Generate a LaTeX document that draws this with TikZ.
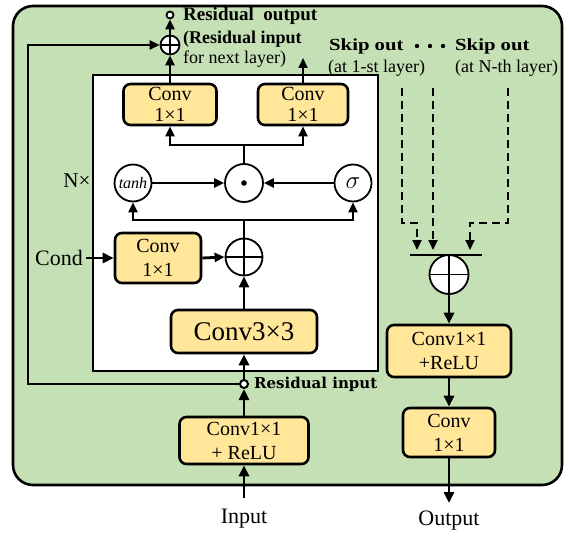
\documentclass[tikz,border=0pt]{standalone}
\usepackage{fontspec}
\setmainfont{Liberation Serif}
\newfontfamily\widebold[FakeStretch=1.22]{Liberation Serif}
\newfontfamily\labelbold{DejaVu Serif}
\usetikzlibrary{arrows.meta}

\definecolor{panelgreen}{RGB}{197,224,180}
\definecolor{boxyellow}{RGB}{255,230,153}

\begin{document}
\begin{tikzpicture}[x=1pt,y=-1pt,
  blk/.style={draw, line width=2.6pt, rounded corners=7pt, fill=boxyellow,
    align=center, inner sep=0pt, font=\fontsize{20}{24}\selectfont},
  opnode/.style={draw, circle, line width=1.8pt, fill=white, inner sep=0pt},
  arr/.style={-{Triangle[length=11pt,width=10pt]}, line width=2.8pt},
  tarr/.style={-{Triangle[length=10pt,width=9pt]}, line width=2.2pt},
  skipline/.style={line width=2pt, dash pattern=on 8pt off 5pt,
    -{Triangle[length=10pt,width=9pt]}},
  lbl/.style={inner sep=0pt, font=\fontsize{18}{20}\selectfont},
  io/.style={inner sep=0pt, font=\fontsize{22}{24}\selectfont},
]
\useasboundingbox (0,0) rectangle (564,532);

% panels
\draw[line width=2.6pt, fill=panelgreen, rounded corners=20pt] (13,6) rectangle (562,485);
\draw[line width=2pt, fill=white] (93,75) rectangle (378,371);

% main column
\node[blk, minimum width=129pt, minimum height=47pt] (pre) at (244,440.5) {Conv1\texttimes1\\+ ReLU};
\node[opnode, minimum size=8pt, line width=2pt] (rin) at (244,384) {};
\node[blk, minimum width=146pt, minimum height=43pt, font=\fontsize{27}{30}\selectfont] (c33) at (244,331.5) {Conv3\texttimes3};
\node[opnode, minimum size=37pt] (cadd) at (244,257) {};
\node[blk, minimum width=86pt, minimum height=50pt] (ccond) at (158,258) {Conv\\1\texttimes1};
\node[opnode, minimum size=37pt] (tanh) at (133,183) {\itshape\fontsize{16}{16}\selectfont tanh};
\node[opnode, minimum size=38pt] (mul) at (244,183) {};
\node[opnode, minimum size=37pt] (sig) at (353,183) {\fontsize{26}{26}\selectfont$\sigma$};
\node[blk, minimum width=93pt, minimum height=41pt, font=\fontsize{20}{21}\selectfont] (convL) at (170,104.5) {Conv\\1\texttimes1};
\node[blk, minimum width=90pt, minimum height=41pt, font=\fontsize{20}{21}\selectfont] (convR) at (303,104.5) {Conv\\1\texttimes1};
\node[opnode, minimum size=19pt] (radd) at (170,45) {};
\node[opnode, minimum size=7pt, line width=1.8pt] (rout) at (170,15) {};

\fill (mul.center) circle (2.8pt);

% output column
\node[opnode, minimum size=39pt] (sadd) at (449,274.5) {};
\node[blk, minimum width=124pt, minimum height=52pt] (post) at (449,351) {Conv1\texttimes1\\+ReLU};
\node[blk, minimum width=92pt, minimum height=49pt] (cout) at (449,432.5) {Conv\\1\texttimes1};

\foreach \n in {radd,cadd,sadd}
  \draw[line width=1.8pt] (\n.north) -- (\n.south) (\n.west) -- (\n.east);

% coordinates of free ends and bends
\coordinate (inp) at (244,498);
\coordinate (outp) at (449,503);
\coordinate (loopb) at (28,384);
\coordinate (split1) at (244,220);
\coordinate (split2) at (244,145);
\coordinate (rtip) at (303,58);
\coordinate (condin) at (86,258);
\coordinate (barL) at (410,255);
\coordinate (barR) at (482,255);
\coordinate (s1) at (402,88);
\coordinate (s2) at (433,88);
\coordinate (s3) at (508,88);

% labels
\node[io, anchor=north] (inlbl) at (244,509) {Input};
\node[io, anchor=north] (outlbl) at (449,511) {Output};
\node[inner sep=0pt, anchor=east, font=\fontsize{22}{24}\selectfont] (cond) at (83,258) {Cond};
\node[inner sep=0pt, font=\fontsize{21}{24}\selectfont] (ntimes) at (77,181) {N\texttimes};
\node[inner sep=0pt, anchor=west, font=\labelbold\bfseries\fontsize{15}{18}\selectfont] (rinlbl) at (254,384) {Residual input};
\node[inner sep=0pt, anchor=base west, font=\bfseries\fontsize{19}{20}\selectfont] (routlbl) at (183,21) {Residual\ \ output};
\node[inner sep=0pt, anchor=base west, font=\bfseries\fontsize{18}{20}\selectfont] (rnext1) at (183,44) {(Residual input};
\node[lbl, anchor=base west] (rnext2) at (183,64) {for next layer)};
\node[inner sep=0pt, anchor=base west, font=\widebold\bfseries\fontsize{17}{20}\selectfont] (sk1) at (329,51) {Skip out};
\node[inner sep=0pt, anchor=base west, font=\widebold\bfseries\fontsize{17}{20}\selectfont] (sk2) at (455,51) {Skip out};
\node[lbl, anchor=base west] (sk1b) at (328,73) {(at 1-st layer)};
\node[lbl, anchor=base west] (sk2b) at (455,73) {(at N-th layer)};
\foreach \x in {417,430,443} \fill (\x,46) circle (2.2pt);

% connectors: main column
\draw[arr] (inp) -- (pre.south);
\draw[arr] (pre.north) -- (rin.south);
\draw[arr] (rin.north) -- (c33.south);
\draw[arr] (c33.north) -- (cadd.south);
\draw[arr] (condin) -- (ccond.west);
\draw[tarr, line width=2.8pt] (ccond.east) -- (cadd.west);
\draw[line width=2.4pt] (cadd.north) -- (split1);
\draw[tarr] (split1) -| (tanh.south);
\draw[tarr] (split1) -| (sig.south);
\draw[tarr] (tanh.east) -- (mul.west);
\draw[tarr] (sig.west) -- (mul.east);
\draw[line width=2.4pt] (mul.north) -- (split2);
\draw[tarr] (split2) -| (convL.south);
\draw[tarr] (split2) -| (convR.south);
\draw[tarr] (convL.north) -- (radd.south);
\draw[tarr] (convR.north) -- (rtip);
\draw[tarr] (radd.north) -- (rout.south);
\draw[tarr] (rin.west) -- (loopb) |- (radd.west);

% connectors: skip outputs
\draw[skipline] (s1) -- (402,223) -- (417,223) -- (417,250);
\draw[skipline] (s2) -- (433,250);
\draw[skipline] (s3) -- (508,223) -- (470,223) -- (470,250);
\draw[line width=2pt] (barL) -- (barR);
\draw[arr] (sadd.south) -- (post.north);
\draw[arr] (post.south) -- (cout.north);
\draw[arr] (cout.south) -- (outp);
\end{tikzpicture}
\end{document}
